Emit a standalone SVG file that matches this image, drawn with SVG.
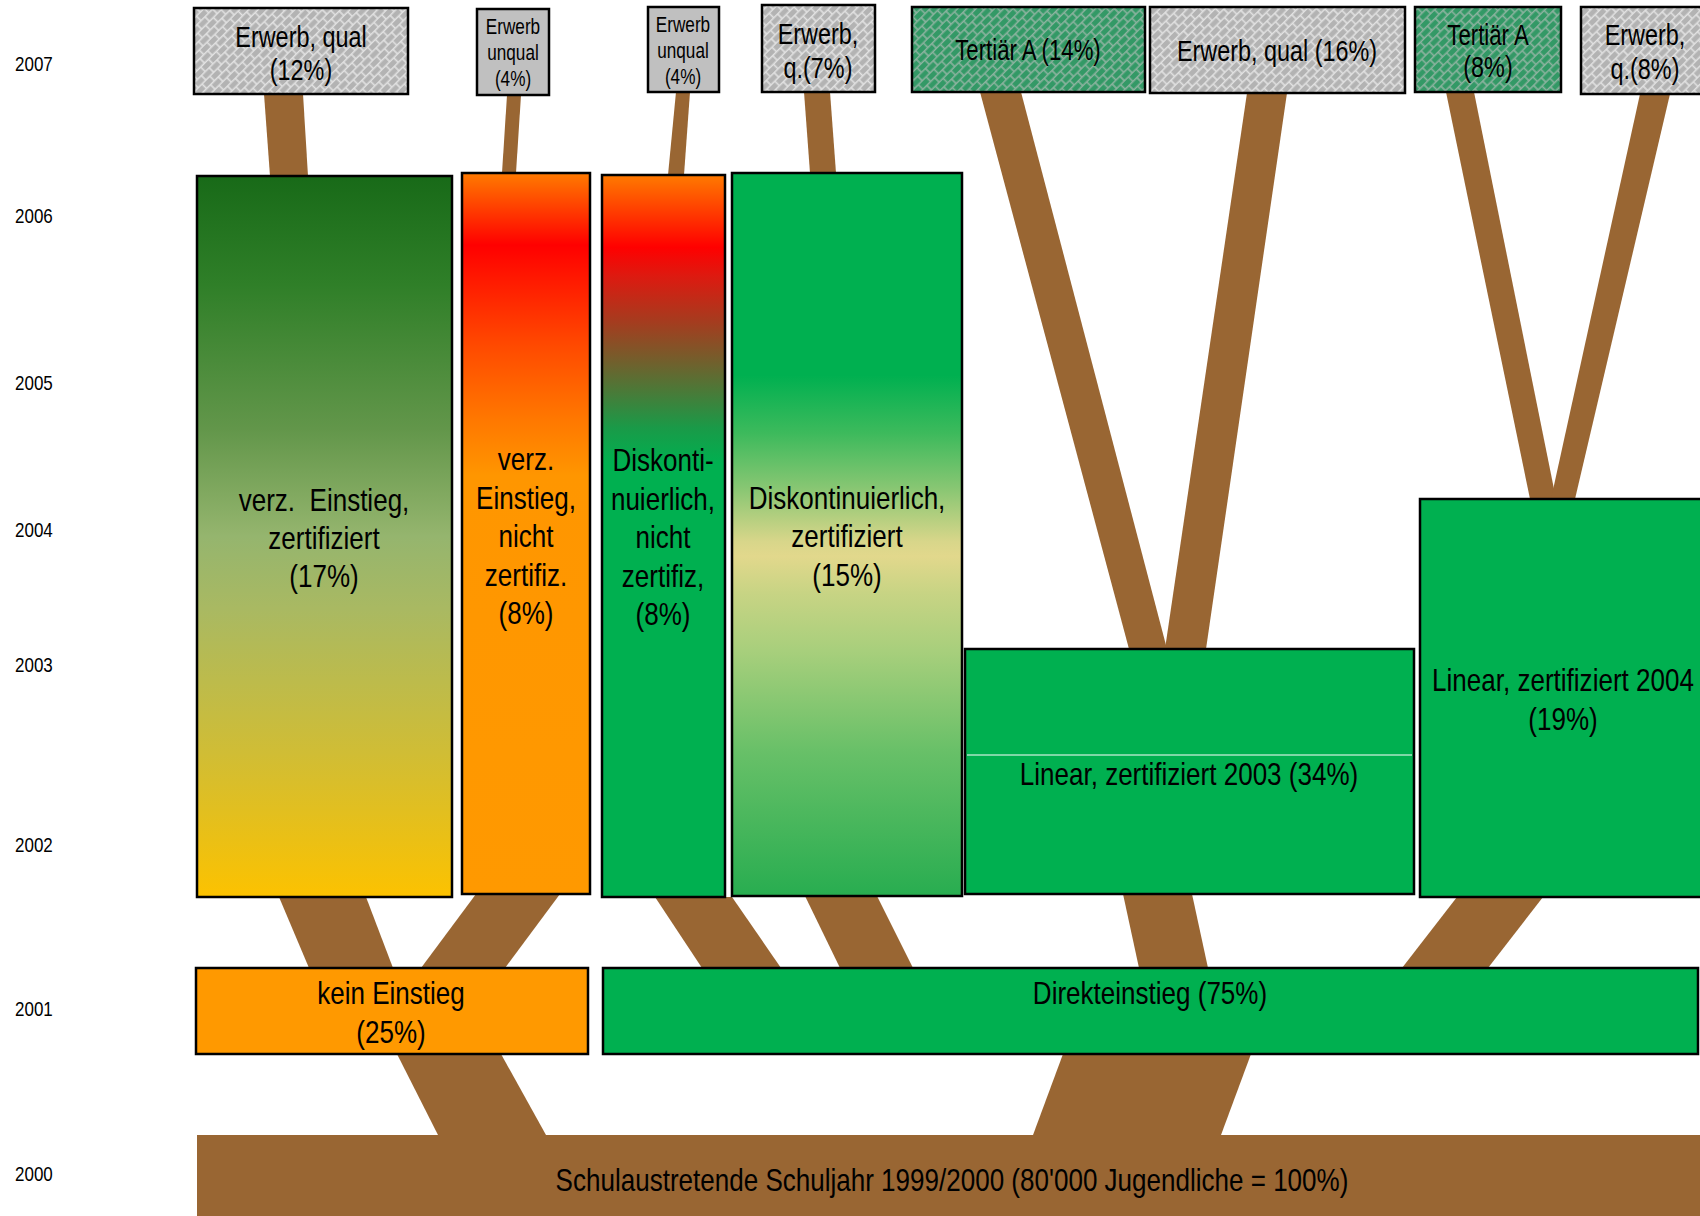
<svg xmlns="http://www.w3.org/2000/svg" width="1700" height="1216" viewBox="0 0 1700 1216">
<style>
text{font-family:"Liberation Sans",Arial,sans-serif;fill:#000;text-anchor:middle}
.yr{font-size:20px;text-anchor:start}
.t30{font-size:30px}
.t22{font-size:22px}
.t31{font-size:31px}
.bx{stroke:#000;stroke-width:2.5}
.con{fill:#996633}
</style>
<defs>
<pattern id="hatchGray" patternUnits="userSpaceOnUse" width="11" height="13" patternTransform="rotate(-45)">
<rect width="11" height="13" fill="#b3b3b3"/>
<path d="M0 0.8H11M0 7.3H11M1 0.8V7.3M6.5 7.3V13.8" stroke="#e2e2e2" stroke-width="1.6" fill="none"/>
</pattern>
<pattern id="hatchGreen" patternUnits="userSpaceOnUse" width="11" height="13" patternTransform="rotate(-45)">
<rect width="11" height="13" fill="#339966"/>
<path d="M0 0.8H11M0 7.3H11M1 0.8V7.3M6.5 7.3V13.8" stroke="#8db3a0" stroke-width="1.6" fill="none"/>
</pattern>
<linearGradient id="gVerzZert" x1="0" y1="0" x2="0" y2="1">
<stop offset="0" stop-color="#186a18"/>
<stop offset="0.15" stop-color="#2f7f28"/>
<stop offset="0.35" stop-color="#62964a"/>
<stop offset="0.5" stop-color="#95b56e"/>
<stop offset="0.6" stop-color="#a9b962"/>
<stop offset="0.8" stop-color="#d0bd35"/>
<stop offset="1" stop-color="#fcc200"/>
</linearGradient>
<linearGradient id="gVerzNicht" x1="0" y1="0" x2="0" y2="1">
<stop offset="0" stop-color="#ff7a00"/>
<stop offset="0.1" stop-color="#ff0000"/>
<stop offset="0.24" stop-color="#ff4a00"/>
<stop offset="0.34" stop-color="#ff7700"/>
<stop offset="0.42" stop-color="#ff9600"/>
<stop offset="1" stop-color="#ff9900"/>
</linearGradient>
<linearGradient id="gDiskNicht" x1="0" y1="0" x2="0" y2="1">
<stop offset="0" stop-color="#ff7a00"/>
<stop offset="0.1" stop-color="#ff0000"/>
<stop offset="0.14" stop-color="#dd1a10"/>
<stop offset="0.2" stop-color="#a83a1e"/>
<stop offset="0.25" stop-color="#7a5a2a"/>
<stop offset="0.3" stop-color="#4a7a38"/>
<stop offset="0.35" stop-color="#1a9a48"/>
<stop offset="0.4" stop-color="#00b050"/>
<stop offset="1" stop-color="#00b050"/>
</linearGradient>
<linearGradient id="gDiskZert" x1="0" y1="0" x2="0" y2="1">
<stop offset="0" stop-color="#00b050"/>
<stop offset="0.28" stop-color="#00b050"/>
<stop offset="0.36" stop-color="#3dba5c"/>
<stop offset="0.44" stop-color="#8cc774"/>
<stop offset="0.51" stop-color="#d8d68a"/>
<stop offset="0.53" stop-color="#e2d88c"/>
<stop offset="0.58" stop-color="#c8d484"/>
<stop offset="0.66" stop-color="#a8cf7c"/>
<stop offset="0.8" stop-color="#68c068"/>
<stop offset="1" stop-color="#28ad50"/>
</linearGradient>
</defs>
<rect width="1700" height="1216" fill="#fff"/>

<g id="year-labels">
<text class="yr" transform="translate(15 0) scale(0.85 1)" y="71">2007</text>
<text class="yr" transform="translate(15 0) scale(0.85 1)" y="223">2006</text>
<text class="yr" transform="translate(15 0) scale(0.85 1)" y="390">2005</text>
<text class="yr" transform="translate(15 0) scale(0.85 1)" y="537">2004</text>
<text class="yr" transform="translate(15 0) scale(0.85 1)" y="672">2003</text>
<text class="yr" transform="translate(15 0) scale(0.85 1)" y="852">2002</text>
<text class="yr" transform="translate(15 0) scale(0.85 1)" y="1016">2001</text>
<text class="yr" transform="translate(15 0) scale(0.85 1)" y="1181">2000</text>
</g>

<g id="connectors">
<polygon class="con" points="264,94 303,94 308,176 270,176"/>
<polygon class="con" points="507,95 521,95 516,173 502,173"/>
<polygon class="con" points="676,92 690,92 684,175 668,175"/>
<polygon class="con" points="804,92 830,92 836,173 810,173"/>
<polygon class="con" points="980,92 1021,92 1167,649 1129,649"/>
<polygon class="con" points="1247,93 1287,93 1206,649 1165,649"/>
<polygon class="con" points="1446,92 1474,92 1556,499 1530,499"/>
<polygon class="con" points="1640,94 1670,94 1575,499 1551,499"/>
<polygon class="con" points="279,897 366,897 393,968 309,968"/>
<polygon class="con" points="476,894 560,894 505,968 421,968"/>
<polygon class="con" points="655,897 732,897 781,968 702,968"/>
<polygon class="con" points="805,896 877,896 913,968 840,968"/>
<polygon class="con" points="1123,894 1192,894 1208,968 1139,968"/>
<polygon class="con" points="1457,897 1543,897 1488,968 1402,968"/>
<polygon class="con" points="397,1054 501,1054 546,1135 438,1135"/>
<polygon class="con" points="1063,1054 1251,1054 1221,1135 1033,1135"/>
</g>

<g id="n-erwerb-qual-12">
<rect class="bx" x="194" y="8" width="214" height="86" fill="url(#hatchGray)"/>
<text class="t30" transform="translate(301 0) scale(0.78 1)" y="47">Erwerb, qual</text>
<text class="t30" transform="translate(301 0) scale(0.78 1)" y="80">(12%)</text>
</g>
<g id="n-erwerb-unqual-4a">
<rect class="bx" x="477" y="9" width="72" height="86" fill="#c0c0c0"/>
<text class="t22" transform="translate(513 0) scale(0.78 1)" y="34">Erwerb</text>
<text class="t22" transform="translate(513 0) scale(0.78 1)" y="60">unqual</text>
<text class="t22" transform="translate(513 0) scale(0.78 1)" y="86">(4%)</text>
</g>
<g id="n-erwerb-unqual-4b">
<rect class="bx" x="648" y="7" width="71" height="85" fill="#c0c0c0"/>
<text class="t22" transform="translate(683 0) scale(0.78 1)" y="32">Erwerb</text>
<text class="t22" transform="translate(683 0) scale(0.78 1)" y="58">unqual</text>
<text class="t22" transform="translate(683 0) scale(0.78 1)" y="84">(4%)</text>
</g>
<g id="n-erwerb-q-7">
<rect class="bx" x="762" y="5" width="113" height="87" fill="url(#hatchGray)"/>
<text class="t30" transform="translate(818 0) scale(0.78 1)" y="44">Erwerb,</text>
<text class="t30" transform="translate(818 0) scale(0.78 1)" y="78">q.(7%)</text>
</g>
<g id="n-tertiaer-14">
<rect class="bx" x="912" y="7" width="233" height="85" fill="url(#hatchGreen)"/>
<text class="t30" transform="translate(1028 0) scale(0.74 1)" y="60">Tertiär A (14%)</text>
</g>
<g id="n-erwerb-qual-16">
<rect class="bx" x="1150" y="7" width="255" height="86" fill="url(#hatchGray)"/>
<text class="t30" transform="translate(1277 0) scale(0.78 1)" y="61">Erwerb, qual (16%)</text>
</g>
<g id="n-tertiaer-8">
<rect class="bx" x="1415" y="7" width="146" height="85" fill="url(#hatchGreen)"/>
<text class="t30" transform="translate(1488 0) scale(0.74 1)" y="45">Tertiär A</text>
<text class="t30" transform="translate(1488 0) scale(0.78 1)" y="77">(8%)</text>
</g>
<g id="n-erwerb-q-8">
<rect class="bx" x="1581" y="7" width="130" height="87" fill="url(#hatchGray)"/>
<text class="t30" transform="translate(1645 0) scale(0.78 1)" y="45">Erwerb,</text>
<text class="t30" transform="translate(1645 0) scale(0.78 1)" y="79">q.(8%)</text>
</g>

<g id="n-verz-zert">
<rect class="bx" x="197" y="176" width="255" height="721" fill="url(#gVerzZert)"/>
<text class="t31" transform="translate(324 0) scale(0.84 1)" y="511">verz.&#160; Einstieg,</text>
<text class="t31" transform="translate(324 0) scale(0.84 1)" y="549">zertifiziert</text>
<text class="t31" transform="translate(324 0) scale(0.84 1)" y="587">(17%)</text>
</g>
<g id="n-verz-nicht">
<rect class="bx" x="462" y="173" width="128" height="721" fill="url(#gVerzNicht)"/>
<text class="t31" transform="translate(526 0) scale(0.84 1)" y="470">verz.</text>
<text class="t31" transform="translate(526 0) scale(0.84 1)" y="509">Einstieg,</text>
<text class="t31" transform="translate(526 0) scale(0.84 1)" y="547">nicht</text>
<text class="t31" transform="translate(526 0) scale(0.84 1)" y="586">zertifiz.</text>
<text class="t31" transform="translate(526 0) scale(0.84 1)" y="624">(8%)</text>
</g>
<g id="n-disk-nicht">
<rect class="bx" x="602" y="175" width="123" height="722" fill="url(#gDiskNicht)"/>
<text class="t31" transform="translate(663 0) scale(0.84 1)" y="471">Diskonti-</text>
<text class="t31" transform="translate(663 0) scale(0.84 1)" y="510">nuierlich,</text>
<text class="t31" transform="translate(663 0) scale(0.84 1)" y="548">nicht</text>
<text class="t31" transform="translate(663 0) scale(0.84 1)" y="587">zertifiz,</text>
<text class="t31" transform="translate(663 0) scale(0.84 1)" y="625">(8%)</text>
</g>
<g id="n-disk-zert">
<rect class="bx" x="732" y="173" width="230" height="723" fill="url(#gDiskZert)"/>
<text class="t31" transform="translate(847 0) scale(0.84 1)" y="509">Diskontinuierlich,</text>
<text class="t31" transform="translate(847 0) scale(0.84 1)" y="547">zertifiziert</text>
<text class="t31" transform="translate(847 0) scale(0.84 1)" y="586">(15%)</text>
</g>
<g id="n-linear-2003">
<rect class="bx" x="965" y="649" width="449" height="245" fill="#00b050"/>
<line x1="967" y1="755" x2="1412" y2="755" stroke="#fff" stroke-width="1"/>
<text class="t31" transform="translate(1189 0) scale(0.84 1)" y="785">Linear, zertifiziert 2003 (34%)</text>
</g>
<g id="n-linear-2004">
<rect class="bx" x="1420" y="499" width="290" height="398" fill="#00b050"/>
<text class="t31" transform="translate(1563 0) scale(0.84 1)" y="691">Linear, zertifiziert 2004</text>
<text class="t31" transform="translate(1563 0) scale(0.84 1)" y="730">(19%)</text>
</g>

<g id="n-kein-einstieg">
<rect class="bx" x="196" y="968" width="392" height="86" fill="#ff9900"/>
<text class="t31" transform="translate(391 0) scale(0.84 1)" y="1004">kein Einstieg</text>
<text class="t31" transform="translate(391 0) scale(0.84 1)" y="1043">(25%)</text>
</g>
<g id="n-direkteinstieg">
<rect class="bx" x="603" y="968" width="1095" height="86" fill="#00b050"/>
<text class="t31" transform="translate(1150 0) scale(0.84 1)" y="1004">Direkteinstieg (75%)</text>
</g>

<g id="n-schulaustretende">
<rect x="197" y="1135" width="1510" height="85" fill="#996633"/>
<text class="t31" transform="translate(952 0) scale(0.84 1)" y="1191">Schulaustretende Schuljahr 1999/2000 (80'000 Jugendliche = 100%)</text>
</g>
</svg>
